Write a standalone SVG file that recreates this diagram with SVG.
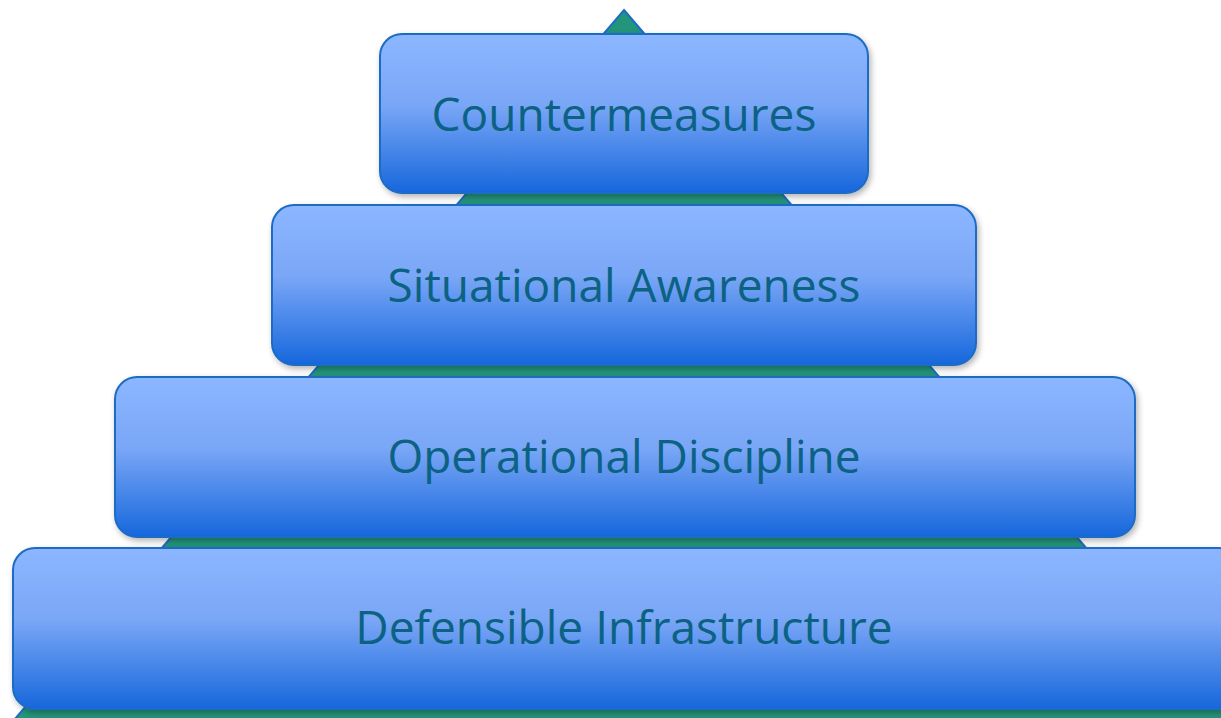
<svg xmlns="http://www.w3.org/2000/svg" width="1221" height="718" viewBox="0 0 1221 718">
  <style>
    .tier { fill: url(#tierFill); stroke: #1e6cc4; stroke-width: 2; filter: url(#drop); }
    .label { font-family: "Open Sans", "Noto Sans", sans-serif; font-size: 46px; fill: #0b6283; text-anchor: middle; }
  </style>
  <defs>
    <linearGradient id="tierFill" x1="0" y1="0" x2="0" y2="1">
      <stop offset="0" stop-color="#8cb6ff"/>
      <stop offset="0.45" stop-color="#79a6f6"/>
      <stop offset="1" stop-color="#1667dc"/>
    </linearGradient>
    <filter id="drop" x="-5%" y="-10%" width="110%" height="125%">
      <feGaussianBlur in="SourceAlpha" stdDeviation="3"/>
      <feOffset dx="2" dy="3" result="blur"/>
      <feComponentTransfer><feFuncA type="linear" slope="0.3"/></feComponentTransfer>
      <feMerge><feMergeNode/><feMergeNode in="SourceGraphic"/></feMerge>
    </filter>
  </defs>

  <!-- pyramid backdrop -->
  <g id="pyramid">
    <polygon points="624,10 1234,720 14,720" fill="#22957a" stroke="#1e6cc4" stroke-width="2"/>
  </g>

  <g id="connectors"></g>

  <g id="tier-countermeasures">
    <rect class="tier" x="380" y="34" width="488" height="159" rx="22"/>
    <text class="label" x="624" y="131">Countermeasures</text>
  </g>
  <g id="tier-situational-awareness">
    <rect class="tier" x="272" y="205" width="704" height="160" rx="22"/>
    <text class="label" x="624" y="302">Situational Awareness</text>
  </g>
  <g id="tier-operational-discipline">
    <rect class="tier" x="115" y="377" width="1020" height="160" rx="22"/>
    <text class="label" x="624" y="473">Operational Discipline</text>
  </g>
  <g id="tier-defensible-infrastructure">
    <rect class="tier" x="13" y="548" width="1228" height="161" rx="22"/>
    <text class="label" x="624" y="644">Defensible Infrastructure</text>
  </g>
</svg>
